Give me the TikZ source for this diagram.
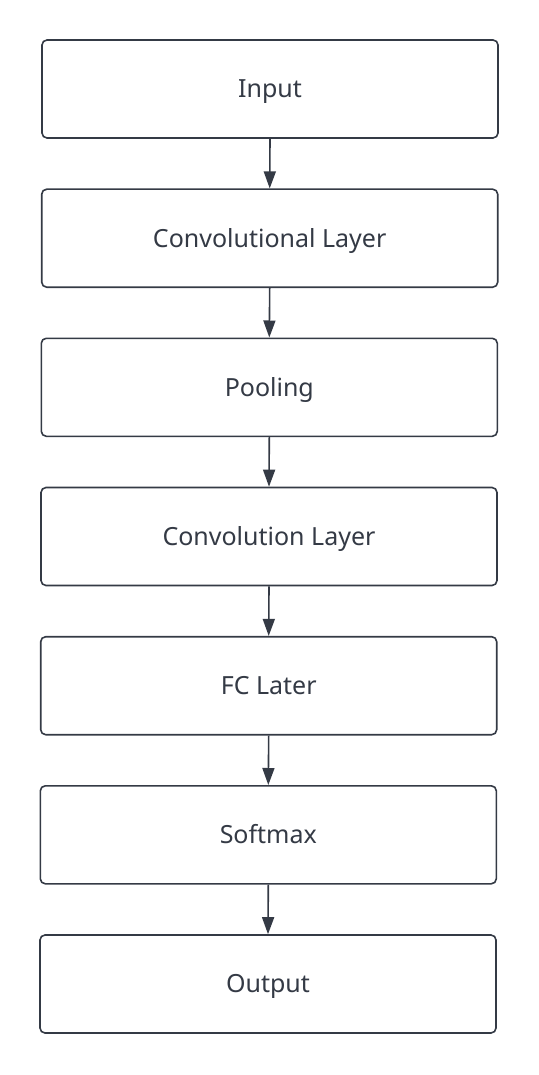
\documentclass[tikz,border=0pt]{standalone}
\usepackage{fontspec}
\setmainfont{Noto Sans}
\usetikzlibrary{arrows.meta}
\definecolor{ink}{HTML}{343A45}
\begin{document}
\begin{tikzpicture}[x=1pt,y=-1pt,
  stepbox/.style={draw=ink, line width=1.6pt, rounded corners=5pt, minimum width=456pt, minimum height=98pt, inner sep=0pt, text height=17.8pt, text depth=0pt, text=ink, font=\fontsize{25}{30}\selectfont, fill=white},
  conn/.style={draw=ink, line width=1.6pt, -{Triangle[length=17pt,width=12pt]}}]
\useasboundingbox (0,0) rectangle (538,1075);
\node[stepbox] (n1) at (270,89) {Input};
\node[stepbox] (n2) at (269.7,238.2) {Convolutional Layer};
\node[stepbox] (n3) at (269.3,387.3) {Pooling};
\node[stepbox] (n4) at (269,536.5) {Convolution Layer};
\node[stepbox] (n5) at (268.7,685.7) {FC Later};
\node[stepbox] (n6) at (268.3,834.8) {Softmax};
\node[stepbox] (n7) at (268,984) {Output};
\draw[conn] (n1.south) -- (n2.north);
\draw[conn] (n2.south) -- (n3.north);
\draw[conn] (n3.south) -- (n4.north);
\draw[conn] (n4.south) -- (n5.north);
\draw[conn] (n5.south) -- (n6.north);
\draw[conn] (n6.south) -- (n7.north);
\end{tikzpicture}
\end{document}
